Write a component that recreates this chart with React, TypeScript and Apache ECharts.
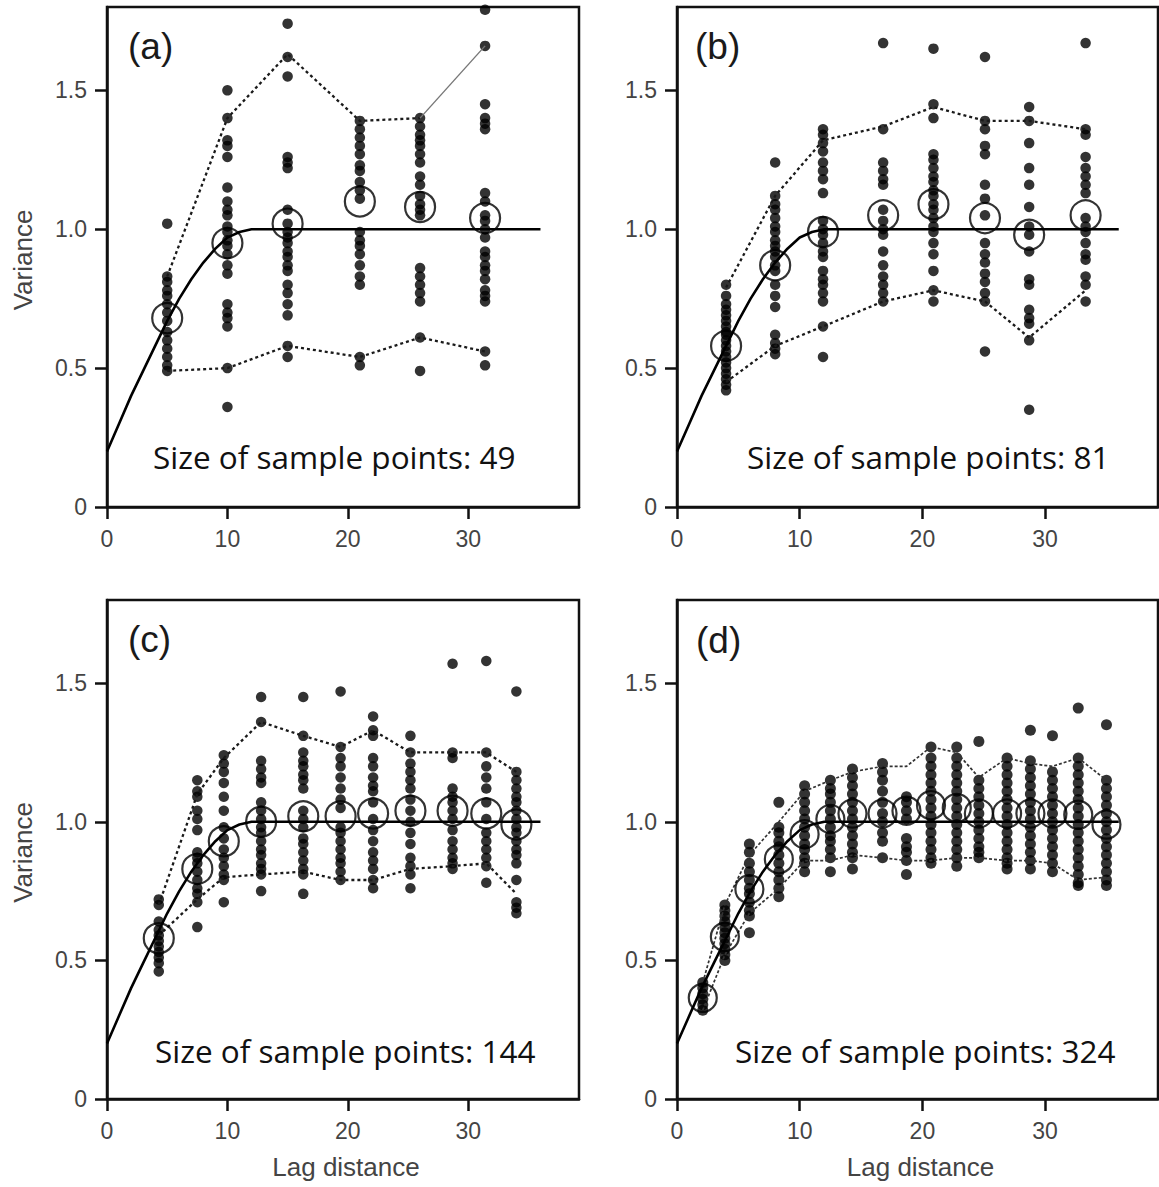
import React, { useEffect, useRef } from "react";
import * as echarts from "echarts";

// ---------- Data ----------
// Theoretical (model) variogram, shared by all panels
const modelLag = [0, 1, 2, 3, 4, 5, 6, 7, 8, 9, 10, 11, 12, 36];
const modelVal = [0.2, 0.3, 0.4, 0.49, 0.58, 0.67, 0.75, 0.82, 0.88, 0.93, 0.97, 0.99, 1.0, 1.0];

const xTicks = [0, 10, 20, 30];
const yTicks = [0, 0.5, 1.0, 1.5];

// Panel (a): 49 sample points
const aLags = [5.0, 10.0, 15.0, 21.0, 26.0, 31.4];
const aDots = [
  [1.02, 0.83, 0.81, 0.78, 0.76, 0.73, 0.7, 0.67, 0.63, 0.6, 0.57, 0.54, 0.51, 0.49],
  [1.5, 1.4, 1.32, 1.3, 1.26, 1.15, 1.1, 1.07, 1.05, 1.01, 0.99, 0.96, 0.94, 0.91, 0.87, 0.84, 0.73, 0.7, 0.68, 0.65, 0.5, 0.36],
  [1.74, 1.62, 1.55, 1.26, 1.24, 1.22, 1.07, 1.02, 0.99, 0.97, 0.95, 0.92, 0.9, 0.87, 0.85, 0.8, 0.77, 0.73, 0.69, 0.58, 0.54],
  [1.39, 1.36, 1.33, 1.3, 1.27, 1.23, 1.21, 1.17, 1.14, 1.11, 0.99, 0.96, 0.94, 0.91, 0.87, 0.83, 0.8, 0.54, 0.51],
  [1.4, 1.37, 1.34, 1.32, 1.3, 1.27, 1.24, 1.19, 1.16, 1.12, 1.09, 1.07, 1.05, 0.86, 0.83, 0.8, 0.77, 0.74, 0.61, 0.49],
  [1.79, 1.66, 1.45, 1.4, 1.38, 1.36, 1.13, 1.1, 1.05, 1.03, 1.0, 0.97, 0.92, 0.9, 0.87, 0.85, 0.82, 0.78, 0.76, 0.74, 0.56, 0.51],
];
const aMeans = [0.68, 0.95, 1.02, 1.1, 1.08, 1.04];
const aUpper = [0.83, 1.4, 1.63, 1.39, 1.4, 1.66];
const aLower = [0.49, 0.5, 0.58, 0.54, 0.61, 0.56];

// Panel (b): 81 sample points
const bLags = [4.0, 8.0, 11.9, 16.8, 20.9, 25.1, 28.7, 33.3];
const bDots = [
  [0.8, 0.76, 0.73, 0.71, 0.69, 0.67, 0.65, 0.63, 0.62, 0.6, 0.58, 0.56, 0.54, 0.52, 0.5, 0.48, 0.46, 0.44, 0.42],
  [1.24, 1.12, 1.09, 1.07, 1.04, 1.01, 0.99, 0.96, 0.94, 0.92, 0.9, 0.87, 0.85, 0.8, 0.76, 0.72, 0.62, 0.59, 0.57, 0.55],
  [1.36, 1.34, 1.31, 1.28, 1.24, 1.21, 1.18, 1.13, 1.03, 1.0, 0.98, 0.95, 0.92, 0.9, 0.85, 0.82, 0.8, 0.77, 0.74, 0.65, 0.54],
  [1.67, 1.36, 1.24, 1.21, 1.18, 1.16, 1.07, 1.03, 1.0, 0.98, 0.92, 0.87, 0.83, 0.8, 0.77, 0.74],
  [1.65, 1.45, 1.4, 1.27, 1.25, 1.22, 1.19, 1.17, 1.14, 1.12, 1.09, 1.07, 1.04, 1.01, 0.99, 0.95, 0.91, 0.85, 0.78, 0.74],
  [1.62, 1.39, 1.36, 1.3, 1.27, 1.16, 1.11, 1.05, 0.95, 0.91, 0.88, 0.84, 0.81, 0.77, 0.74, 0.56],
  [1.44, 1.39, 1.31, 1.22, 1.16, 1.08, 1.01, 0.98, 0.92, 0.82, 0.8, 0.71, 0.68, 0.66, 0.6, 0.35],
  [1.67, 1.36, 1.34, 1.26, 1.22, 1.19, 1.16, 1.13, 1.04, 1.01, 0.99, 0.95, 0.91, 0.89, 0.83, 0.8, 0.74],
];
const bMeans = [0.58, 0.87, 0.99, 1.05, 1.09, 1.04, 0.98, 1.05];
const bUpper = [0.79, 1.12, 1.32, 1.37, 1.44, 1.39, 1.39, 1.36];
const bLower = [0.45, 0.58, 0.65, 0.74, 0.78, 0.74, 0.61, 0.78];

// Panel (c): 144 sample points
const cLags = [4.3, 7.5, 9.7, 12.8, 16.3, 19.4, 22.1, 25.2, 28.7, 31.5, 34.0];
const cDots = [
  [0.72, 0.7, 0.64, 0.61, 0.59, 0.57, 0.55, 0.53, 0.51, 0.49, 0.46],
  [1.15, 1.11, 1.09, 1.04, 1.01, 0.97, 0.89, 0.87, 0.85, 0.82, 0.79, 0.76, 0.74, 0.71, 0.62],
  [1.24, 1.21, 1.18, 1.14, 1.09, 1.04, 0.98, 0.94, 0.9, 0.87, 0.84, 0.81, 0.79, 0.71],
  [1.45, 1.36, 1.22, 1.19, 1.16, 1.14, 1.07, 1.04, 1.01, 0.98, 0.96, 0.93, 0.9, 0.88, 0.85, 0.83, 0.81, 0.75],
  [1.45, 1.31, 1.25, 1.22, 1.2, 1.17, 1.15, 1.12, 1.04, 1.01, 0.98, 0.94, 0.92, 0.89, 0.86, 0.83, 0.81, 0.74],
  [1.47, 1.27, 1.23, 1.2, 1.16, 1.12, 1.08, 1.05, 0.98, 0.96, 0.93, 0.9, 0.87, 0.85, 0.82, 0.79],
  [1.38, 1.33, 1.31, 1.23, 1.2, 1.16, 1.13, 1.11, 1.07, 1.01, 0.97, 0.93, 0.89, 0.86, 0.83, 0.79, 0.76],
  [1.31, 1.25, 1.21, 1.18, 1.15, 1.12, 1.08, 1.04, 1.0, 0.96, 0.92, 0.87, 0.84, 0.81, 0.76],
  [1.57, 1.25, 1.23, 1.12, 1.09, 1.07, 1.04, 1.01, 0.97, 0.93, 0.9, 0.87, 0.85, 0.83],
  [1.58, 1.25, 1.2, 1.16, 1.12, 1.07, 1.01, 0.96, 0.93, 0.9, 0.87, 0.84, 0.78],
  [1.47, 1.18, 1.15, 1.12, 1.09, 1.07, 1.04, 1.01, 0.98, 0.96, 0.93, 0.9, 0.88, 0.85, 0.79, 0.71, 0.69, 0.67],
];
const cMeans = [0.58, 0.83, 0.93, 1.0, 1.02, 1.02, 1.03, 1.04, 1.04, 1.03, 0.99];
const cUpper = [0.7, 1.1, 1.23, 1.36, 1.31, 1.27, 1.33, 1.25, 1.25, 1.25, 1.18];
const cLower = [0.59, 0.72, 0.8, 0.81, 0.82, 0.79, 0.79, 0.83, 0.84, 0.85, 0.74];

// Panel (d): 324 sample points
const dLags = [2.1, 3.9, 5.9, 8.3, 10.4, 12.5, 14.3, 16.75, 18.7, 20.7, 22.8, 24.6, 26.9, 28.8, 30.6, 32.7, 35.0];
const dDots = [
  [0.42, 0.4, 0.38, 0.36, 0.34, 0.32],
  [0.7, 0.68, 0.66, 0.64, 0.62, 0.6, 0.58, 0.56, 0.54, 0.52, 0.5],
  [0.92, 0.89, 0.85, 0.82, 0.79, 0.76, 0.74, 0.71, 0.68, 0.66, 0.6],
  [1.07, 0.98, 0.96, 0.93, 0.91, 0.88, 0.85, 0.82, 0.79, 0.76, 0.73],
  [1.13, 1.1, 1.07, 1.04, 1.01, 0.98, 0.95, 0.92, 0.9, 0.87, 0.85, 0.82],
  [1.15, 1.12, 1.1, 1.07, 1.04, 1.01, 0.98, 0.95, 0.93, 0.9, 0.87, 0.82],
  [1.19, 1.16, 1.13, 1.1, 1.07, 1.04, 1.01, 0.98, 0.95, 0.92, 0.89, 0.87, 0.83],
  [1.21, 1.18, 1.15, 1.11, 1.07, 1.03, 1.0, 0.96, 0.93, 0.87],
  [1.09, 1.07, 1.04, 1.01, 0.94, 0.91, 0.89, 0.86, 0.81],
  [1.27, 1.23, 1.2, 1.17, 1.14, 1.11, 1.08, 1.05, 1.02, 0.99, 0.96, 0.93, 0.9, 0.87, 0.85],
  [1.27, 1.23, 1.2, 1.17, 1.14, 1.11, 1.08, 1.05, 1.02, 0.99, 0.96, 0.93, 0.9, 0.87, 0.84],
  [1.29, 1.15, 1.12, 1.09, 1.06, 1.03, 1.0, 0.97, 0.94, 0.91, 0.89, 0.87],
  [1.23, 1.2, 1.17, 1.14, 1.11, 1.08, 1.05, 1.02, 0.99, 0.96, 0.93, 0.9, 0.87, 0.85, 0.83],
  [1.33, 1.22, 1.19, 1.16, 1.13, 1.1, 1.07, 1.04, 1.01, 0.98, 0.95, 0.92, 0.89, 0.86, 0.83],
  [1.31, 1.18, 1.15, 1.12, 1.09, 1.06, 1.03, 1.0, 0.97, 0.94, 0.91, 0.88, 0.85, 0.82],
  [1.41, 1.23, 1.2, 1.17, 1.14, 1.11, 1.08, 1.05, 1.02, 0.99, 0.96, 0.93, 0.9, 0.87, 0.84, 0.81, 0.78, 0.77],
  [1.35, 1.15, 1.12, 1.09, 1.06, 1.03, 1.0, 0.97, 0.94, 0.91, 0.88, 0.85, 0.82, 0.79, 0.77],
];
const dMeans = [0.365, 0.585, 0.757, 0.865, 0.955, 1.01, 1.03, 1.03, 1.04, 1.06, 1.05, 1.03, 1.03, 1.03, 1.03, 1.025, 0.99];
const dUpper = [0.42, 0.7, 0.88, 1.0, 1.11, 1.15, 1.18, 1.2, 1.2, 1.27, 1.25, 1.16, 1.23, 1.21, 1.2, 1.23, 1.15];
const dLower = [0.32, 0.52, 0.67, 0.76, 0.86, 0.86, 0.88, 0.87, 0.86, 0.86, 0.87, 0.87, 0.86, 0.86, 0.85, 0.79, 0.8];

const panelTags = ["(a)", "(b)", "(c)", "(d)"];
const sampleSizes = [49, 81, 144, 324];

// ---------- Layout & style ----------
const grids = [
  { left: 107, top: 7, width: 472, height: 500 },
  { left: 677, top: 7, width: 481, height: 500 },
  { left: 107, top: 600, width: 472, height: 499 },
  { left: 677, top: 600, width: 481, height: 499 },
];
const tagPos = [
  [128, 46],
  [695, 46],
  [128, 639],
  [696, 640],
];
const sizePos = [
  [153, 456],
  [747, 456],
  [155, 1050],
  [735, 1050],
];
const AX = "#111";
const LABEL = "#444";
const SANS = "'Liberation Sans', Arial, Helvetica, sans-serif";

function pairs(xs: number[], ys: number[]) {
  return ys.map((v, i) => [xs[i], v]);
}

function buildOption() {
  const panels = [
    { lags: aLags, dots: aDots, means: aMeans, upper: aUpper, lower: aLower },
    { lags: bLags, dots: bDots, means: bMeans, upper: bUpper, lower: bLower },
    { lags: cLags, dots: cDots, means: cMeans, upper: cUpper, lower: cLower },
    { lags: dLags, dots: dDots, means: dMeans, upper: dUpper, lower: dLower },
  ];

  const series: any[] = [];
  panels.forEach((p, i) => {
    const dotData: number[][] = [];
    p.dots.forEach((col, j) => col.forEach((v) => dotData.push([p.lags[j], v])));
    const env = i === 3
      ? { color: "#333", width: 1.7, type: [3, 2] }
      : { color: "#1a1a1a", width: 2.3, type: [3, 3] };

    series.push({
      type: "scatter", xAxisIndex: i, yAxisIndex: i, silent: true, z: 2,
      symbol: "circle", symbolSize: i === 3 ? 11 : 10.5, itemStyle: { color: "#000" }, data: dotData,
    });

    const upperPts = pairs(p.lags, p.upper);
    if (i === 0) {
      series.push({
        type: "line", xAxisIndex: i, yAxisIndex: i, silent: true, z: 3, symbol: "none",
        lineStyle: env, data: upperPts.slice(0, 5),
      });
      series.push({
        type: "line", xAxisIndex: i, yAxisIndex: i, silent: true, z: 3, symbol: "none",
        lineStyle: { color: "#777", width: 1.4, type: "solid" }, data: upperPts.slice(4),
      });
    } else {
      series.push({
        type: "line", xAxisIndex: i, yAxisIndex: i, silent: true, z: 3, symbol: "none",
        lineStyle: env, data: upperPts,
      });
    }
    series.push({
      type: "line", xAxisIndex: i, yAxisIndex: i, silent: true, z: 3, symbol: "none",
      lineStyle: env, data: pairs(p.lags, p.lower),
    });
    series.push({
      type: "line", xAxisIndex: i, yAxisIndex: i, silent: true, z: 4, symbol: "none",
      lineStyle: { color: "#000", width: 2.6, type: "solid" }, data: pairs(modelLag, modelVal),
    });
    series.push({
      type: "scatter", xAxisIndex: i, yAxisIndex: i, silent: true, z: 5,
      symbol: "circle", symbolSize: i === 3 ? 28 : 30,
      itemStyle: { color: "rgba(0,0,0,0)", borderColor: "#000", borderWidth: 2.2 },
      data: pairs(p.lags, p.means),
    });
  });

  const graphics: any[] = [];
  panelTags.forEach((t, i) => {
    graphics.push({
      type: "text", x: tagPos[i][0], y: tagPos[i][1], silent: true,
      style: { text: t, fontSize: 37, fontFamily: SANS, fill: "#1a1a1a", align: "left", verticalAlign: "middle" },
    });
    graphics.push({
      type: "text", x: sizePos[i][0], y: sizePos[i][1], silent: true,
      style: {
        text: "Size of sample points: " + sampleSizes[i], fontSize: 31.5,
        fontFamily: "'Open Sans', 'Noto Sans', sans-serif", fill: "#111", align: "left", verticalAlign: "middle",
      },
    });
  });
  [0, 2].forEach((i) => {
    const g = grids[i];
    graphics.push({
      type: "text", x: 23, y: g.top + g.height / 2 + 3, rotation: Math.PI / 2, silent: true,
      style: { text: "Variance", fontSize: 26, fontFamily: SANS, fill: LABEL, align: "center", verticalAlign: "middle" },
    });
  });
  [2, 3].forEach((i) => {
    const g = grids[i];
    graphics.push({
      type: "text", x: g.left + g.width / 2 + 3, y: 1167, silent: true,
      style: { text: "Lag distance", fontSize: 26, fontFamily: SANS, fill: LABEL, align: "center", verticalAlign: "middle" },
    });
  });

  return {
    animation: false,
    backgroundColor: "#fff",
    grid: grids.map((g) => ({
      ...g, show: true, borderColor: AX, borderWidth: 2.5, backgroundColor: "transparent", containLabel: false,
    })),
    xAxis: grids.map((_, i) => ({
      gridIndex: i, type: "value", min: 0, max: 39.2,
      axisLine: { show: true, onZero: false, lineStyle: { color: AX, width: 2.5 } },
      axisTick: { show: true, inside: false, length: 12, customValues: xTicks, lineStyle: { color: AX, width: 2.5 } },
      axisLabel: { show: true, customValues: xTicks, margin: 20, fontSize: 23, color: LABEL, fontFamily: SANS },
      splitLine: { show: false },
    })),
    yAxis: grids.map((_, i) => ({
      gridIndex: i, type: "value", min: 0, max: 1.8,
      axisLine: { show: true, onZero: false, lineStyle: { color: AX, width: 2.5 } },
      axisTick: { show: true, inside: false, length: 12, customValues: yTicks, lineStyle: { color: AX, width: 2.5 } },
      axisLabel: {
        show: true, customValues: yTicks, margin: 20, fontSize: 23, color: LABEL, fontFamily: SANS,
        formatter: (v: number) => (v === 0 ? "0" : v.toFixed(1)),
      },
      splitLine: { show: false },
    })),
    series,
    graphic: graphics,
  };
}

export default function App() {
  const ref = useRef<HTMLDivElement>(null);
  useEffect(() => {
    if (!ref.current) return;
    const chart = echarts.init(ref.current, undefined, { renderer: "svg" });
    chart.setOption(buildOption() as any);
    return () => chart.dispose();
  }, []);
  return (
    <div
      ref={ref}
      style={{ position: "absolute", left: 0, top: 0, width: 1159, height: 1187, background: "#fff" }}
    />
  );
}
